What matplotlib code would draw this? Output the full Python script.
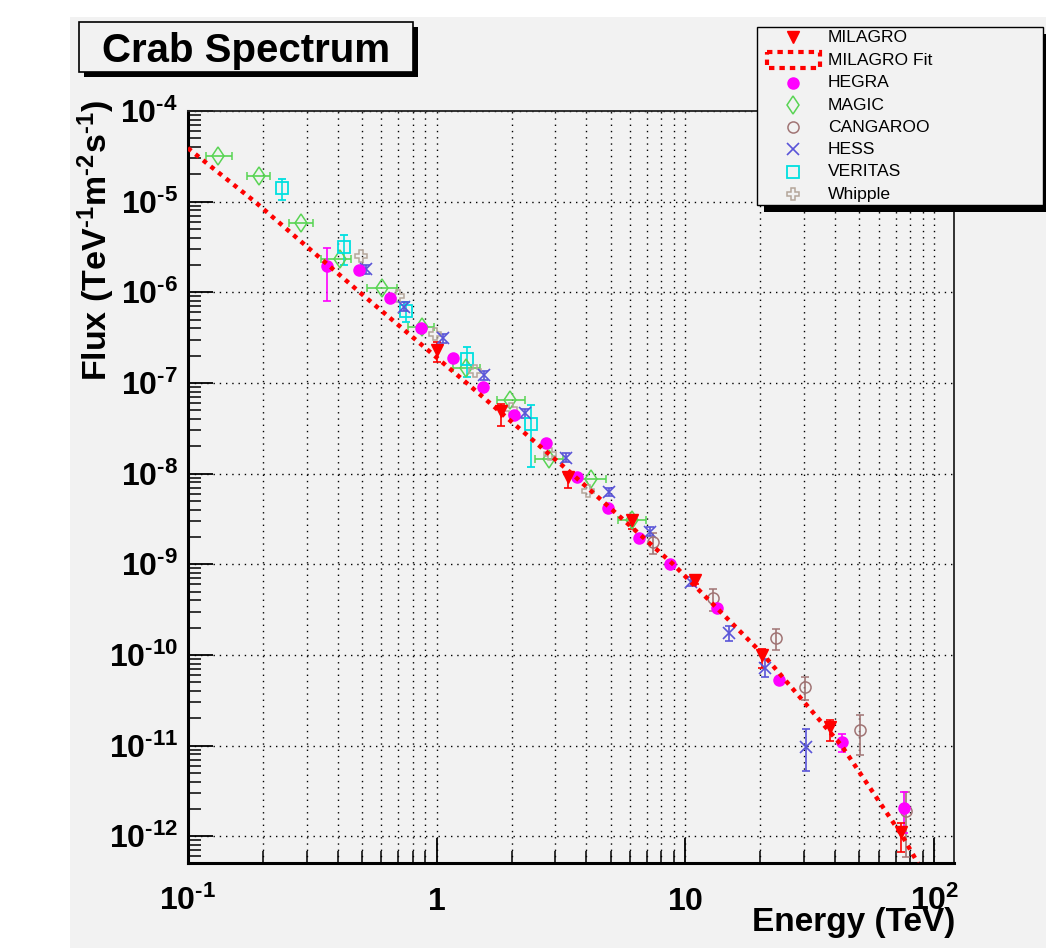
import numpy as np
import matplotlib
matplotlib.use("Agg")
import matplotlib.pyplot as plt
from matplotlib.patches import Rectangle
from matplotlib.ticker import LogLocator, NullFormatter

plt.rcParams['font.family'] = ['Liberation Sans', 'DejaVu Sans']
plt.rcParams['mathtext.fontset'] = 'custom'
plt.rcParams['mathtext.rm'] = 'Liberation Sans:bold'
plt.rcParams['mathtext.bf'] = 'Liberation Sans:bold'
plt.rcParams['mathtext.default'] = 'bf'

# ---- data (energy in TeV, flux in TeV^-1 m^-2 s^-1) ----
milagro_e = [1.00, 1.81, 3.37, 6.11, 10.9, 20.3, 38.0, 73.2]
milagro_f = [2.31e-7, 4.91e-8, 9.25e-9, 3.08e-9, 6.71e-10, 1.0e-10, 1.62e-11, 1.12e-12]
milagro_hi = [2.85e-7, 5.86e-8, 1.02e-8, 3.33e-9, 7.3e-10, 1.16e-10, 1.92e-11, 1.41e-12]
milagro_lo = [1.72e-7, 3.36e-8, 7.0e-9, 2.45e-9, 6.1e-10, 7.11e-11, 1.13e-11, 6.76e-13]

fit_e = [0.1, 0.186, 0.491, 1.32, 3.49, 8.93, 20.6, 42.4, 74.5, 85.9]
fit_f = [3.9e-5, 1e-5, 1e-6, 1e-7, 1e-8, 1e-9, 1e-10, 1e-11, 1e-12, 5.07e-13]

hegra_e = [0.364, 0.487, 0.647, 0.865, 1.16, 1.54, 2.05, 2.75, 3.66, 4.88,
           6.49, 8.69, 13.4, 23.7, 42.4, 75.5]
hegra_f = [1.97e-6, 1.75e-6, 8.73e-7, 4.01e-7, 1.87e-7, 9.1e-8, 4.43e-8, 2.16e-8,
           9.25e-9, 4.15e-9, 1.93e-9, 1.01e-9, 3.27e-10, 5.29e-11, 1.10e-11, 2.04e-12]
hegra_hi = [3.10e-6, 1.75e-6, 8.73e-7, 4.01e-7, 1.87e-7, 9.1e-8, 4.43e-8, 2.16e-8,
            9.25e-9, 4.15e-9, 1.93e-9, 1.01e-9, 3.27e-10, 5.29e-11, 1.34e-11, 3.10e-12]
hegra_lo = [7.96e-7, 1.75e-6, 8.73e-7, 4.01e-7, 1.87e-7, 9.1e-8, 4.43e-8, 2.16e-8,
            9.25e-9, 4.15e-9, 1.93e-9, 1.01e-9, 3.27e-10, 5.29e-11, 8.6e-12, 1.09e-12]

magic_e = [0.132, 0.193, 0.284, 0.408, 0.604, 0.875, 1.31, 1.97, 2.84, 4.17, 6.12]
magic_elo = [0.118, 0.173, 0.255, 0.344, 0.526, 0.769, 1.16, 1.75, 2.49, 3.66, 5.38]
magic_ehi = [0.150, 0.214, 0.319, 0.452, 0.690, 0.975, 1.49, 2.27, 3.21, 4.79, 6.93]
magic_f = [3.19e-5, 1.93e-5, 5.77e-6, 2.31e-6, 1.12e-6, 4.11e-7, 1.45e-7, 6.49e-8,
           1.44e-8, 8.67e-9, 3.08e-9]

cangaroo_e = [7.40, 12.9, 23.2, 30.1, 50.5, 76.7]
cangaroo_f = [1.78e-9, 4.28e-10, 1.53e-10, 4.43e-11, 1.49e-11, 1.91e-12]
cangaroo_hi = [2.23e-9, 5.35e-10, 1.92e-10, 5.64e-11, 2.18e-11, 3.10e-12]
cangaroo_lo = [1.30e-9, 3.05e-10, 1.14e-10, 3.18e-11, 7.88e-12, 5.94e-13]

hess_e = [0.519, 0.741, 1.06, 1.55, 2.27, 3.31, 4.93, 7.20, 10.5, 14.9, 20.9, 30.6]
hess_f = [1.79e-6, 6.94e-7, 3.11e-7, 1.22e-7, 4.63e-8, 1.50e-8, 6.28e-9, 2.29e-9,
          6.43e-10, 1.73e-10, 7.13e-11, 9.73e-12]
hess_hi = [2.0e-6, 7.8e-7, 3.5e-7, 1.37e-7, 5.2e-8, 1.68e-8, 7.0e-9, 2.56e-9,
           7.2e-10, 2.09e-10, 8.95e-11, 1.51e-11]
hess_lo = [1.6e-6, 6.2e-7, 2.78e-7, 1.09e-7, 4.13e-8, 1.34e-8, 5.6e-9, 2.04e-9,
           5.74e-10, 1.43e-10, 5.67e-11, 5.28e-12]

veritas_e = [0.238, 0.425, 0.752, 1.33, 2.40]
veritas_f = [1.43e-5, 3.14e-6, 6.22e-7, 1.85e-7, 3.50e-8]
veritas_hi = [1.78e-5, 4.29e-6, 7.76e-7, 2.51e-7, 5.71e-8]
veritas_lo = [1.03e-5, 2.00e-6, 4.67e-7, 1.17e-7, 1.19e-8]

whipple_e = [0.496, 0.701, 0.987, 1.42, 1.99, 2.86, 4.04]
whipple_f = [2.52e-6, 9.18e-7, 3.44e-7, 1.36e-7, 5.13e-8, 1.65e-8, 6.47e-9]

x_ticks = [0.1, 1, 10, 100]
x_ticklabels = [r'$10^{\text{-}1}$', r'$1$', r'$10$', r'$10^{2}$']
y_ticks = [1e-12, 1e-11, 1e-10, 1e-9, 1e-8, 1e-7, 1e-6, 1e-5, 1e-4]
y_ticklabels = [r'$10^{\text{-}12}$', r'$10^{\text{-}11}$', r'$10^{\text{-}10}$',
                r'$10^{\text{-}9}$', r'$10^{\text{-}8}$', r'$10^{\text{-}7}$',
                r'$10^{\text{-}6}$', r'$10^{\text{-}5}$', r'$10^{\text{-}4}$']

# ---- colours (ROOT palette) ----
bg = '#f2f2f2'
c_mil = '#ff0000'
c_hegra = '#ff00ff'
c_magic = '#59d454'
c_cang = '#a07474'
c_hess = '#5954d8'
c_ver = '#00e0e0'
c_whip = '#b4a69a'

W, H = 1046, 948
fig = plt.figure(figsize=(W / 100, H / 100), dpi=100)
fig.patch.set_facecolor('white')
fig.add_artist(Rectangle((70 / W, 0), 1 - 70 / W, 1 - 17 / H, transform=fig.transFigure,
                         facecolor=bg, edgecolor='none', zorder=-10))

ax = fig.add_axes([187.8 / W, 1 - 863 / H, (954 - 187.8) / W, (863 - 111) / H])
ax.set_facecolor(bg)
ax.set_xscale('log')
ax.set_yscale('log')
ax.set_xlim(0.1, 120)
ax.set_ylim(5.07e-13, 1e-4)

# grid: x major+minor, y major only
ax.xaxis.set_minor_locator(LogLocator(base=10, subs=np.arange(2, 10), numticks=100))
ax.yaxis.set_minor_locator(LogLocator(base=10, subs=np.arange(2, 10), numticks=100))
ax.xaxis.set_minor_formatter(NullFormatter())
ax.yaxis.set_minor_formatter(NullFormatter())
ax.grid(True, which='major', axis='both', color='black', linestyle=(0, (1, 3.5)), linewidth=1.0)
ax.grid(True, which='minor', axis='x', color='black', linestyle=(0, (1, 3.5)), linewidth=1.0)
ax.set_axisbelow(True)

ax.set_xticks(x_ticks)
ax.set_xticklabels(x_ticklabels, fontsize=23)
ax.set_yticks(y_ticks)
ax.set_yticklabels(y_ticklabels, fontsize=23)
ax.tick_params(which='major', direction='in', length=18, width=1.3, top=False, right=False)
ax.tick_params(which='minor', direction='in', length=9, width=1.1, top=False, right=False)
ax.tick_params(axis='x', which='major', pad=34)
ax.tick_params(axis='y', which='major', pad=7)
for lab in ax.get_xticklabels():
    lab.set_va('baseline')

for s in ['left', 'bottom']:
    ax.spines[s].set_linewidth(2.2)
    ax.spines[s].set_color('black')
for s in ['top', 'right']:
    ax.spines[s].set_linewidth(1.3)
    ax.spines[s].set_color('#222222')

ebkw = dict(capsize=3, elinewidth=1.2, capthick=1.2, linestyle='none', zorder=3)


def asym(vals, lo, hi):
    v = np.array(vals)
    return [v - np.array(lo), np.array(hi) - v]


ax.errorbar(magic_e, magic_f, xerr=asym(magic_e, magic_elo, magic_ehi), fmt='d', ms=9.5,
            mfc='none', mec=c_magic, mew=1.1, ecolor=c_magic, **ebkw)
ax.errorbar(veritas_e, veritas_f, yerr=asym(veritas_f, veritas_lo, veritas_hi), fmt='s', ms=8,
            mfc='none', mec=c_ver, mew=1.3, ecolor=c_ver, **ebkw)
ax.errorbar(whipple_e, whipple_f, fmt='P', ms=9, mfc='none', mec=c_whip, mew=1.1,
            linestyle='none', zorder=3)
ax.errorbar(hess_e, hess_f, yerr=asym(hess_f, hess_lo, hess_hi), fmt='x', ms=9,
            mec=c_hess, mew=1.2, ecolor=c_hess, **ebkw)
ax.errorbar(cangaroo_e, cangaroo_f, yerr=asym(cangaroo_f, cangaroo_lo, cangaroo_hi), fmt='o',
            ms=8, mfc='none', mec=c_cang, mew=1.1, ecolor=c_cang, **ebkw)
ax.errorbar(hegra_e, hegra_f, yerr=asym(hegra_f, hegra_lo, hegra_hi), fmt='o', ms=8,
            mfc=c_hegra, mec=c_hegra, ecolor=c_hegra, **ebkw)
ax.errorbar(milagro_e, milagro_f, yerr=asym(milagro_f, milagro_lo, milagro_hi), fmt='v', ms=8.5,
            mfc=c_mil, mec=c_mil, ecolor=c_mil, **ebkw)
ax.plot(fit_e, fit_f, color=c_mil, linewidth=3.2, linestyle=(0, (1, 1.2)),
        dash_capstyle='butt', zorder=4)

# axis titles
fig.text(96.7 / W, 1 - 100 / H, r'Flux (TeV$^{\text{-}1}$m$^{\text{-}2}$s$^{\text{-}1}$)',
         rotation=90, ha='center', va='top', fontsize=24.5, fontweight='bold')
fig.text(955 / W, 1 - 931 / H, 'Energy (TeV)', ha='right', va='baseline',
         fontsize=24, fontweight='bold')

# ---- overlay in pixel coordinates for title box and legend ----
ov = fig.add_axes([0, 0, 1, 1], zorder=10)
ov.set_xlim(0, W)
ov.set_ylim(H, 0)
ov.axis('off')

# title box with shadow
ov.add_patch(Rectangle((84, 27), 334, 50, facecolor='black', edgecolor='none'))
ov.add_patch(Rectangle((79, 22), 334, 50, facecolor=bg, edgecolor='black', linewidth=1.2))
ov.text(246, 62, 'Crab Spectrum', ha='center', va='baseline', fontsize=29, fontweight='bold')

# legend box with shadow
ov.add_patch(Rectangle((764, 34), 286, 178, facecolor='black', edgecolor='none'))
ov.add_patch(Rectangle((757, 27), 286, 178, facecolor=bg, edgecolor='black', linewidth=1.0))

names = ['MILAGRO', 'MILAGRO Fit', 'HEGRA', 'MAGIC', 'CANGAROO', 'HESS', 'VERITAS', 'Whipple']
rows = [37.3, 60.7, 82.7, 105, 127.3, 149.3, 171.7, 194]
mx = 793.3
ov.plot([mx], [rows[0]], 'v', ms=8.5, mfc=c_mil, mec=c_mil)
ov.add_patch(Rectangle((767.3, 52.3), 52.7, 16, facecolor='none', edgecolor=c_mil,
                       linewidth=3.0, linestyle=(0, (1.3, 1.2))))
ov.plot([mx], [rows[2]], 'o', ms=8, mfc=c_hegra, mec=c_hegra)
ov.plot([mx], [rows[3]], 'd', ms=9.5, mfc='none', mec=c_magic, mew=1.1)
ov.plot([mx], [rows[4]], 'o', ms=8, mfc='none', mec=c_cang, mew=1.1)
ov.plot([mx], [rows[5]], 'x', ms=9, mec=c_hess, mew=1.2)
ov.plot([mx], [rows[6]], 's', ms=8, mfc='none', mec=c_ver, mew=1.3)
ov.plot([mx], [rows[7]], 'P', ms=9, mfc='none', mec=c_whip, mew=1.1)
for name, y in zip(names, rows):
    ov.text(827.7, y, name, ha='left', va='center', fontsize=12.6)

fig.savefig('out.png', dpi=100, facecolor=fig.get_facecolor())
